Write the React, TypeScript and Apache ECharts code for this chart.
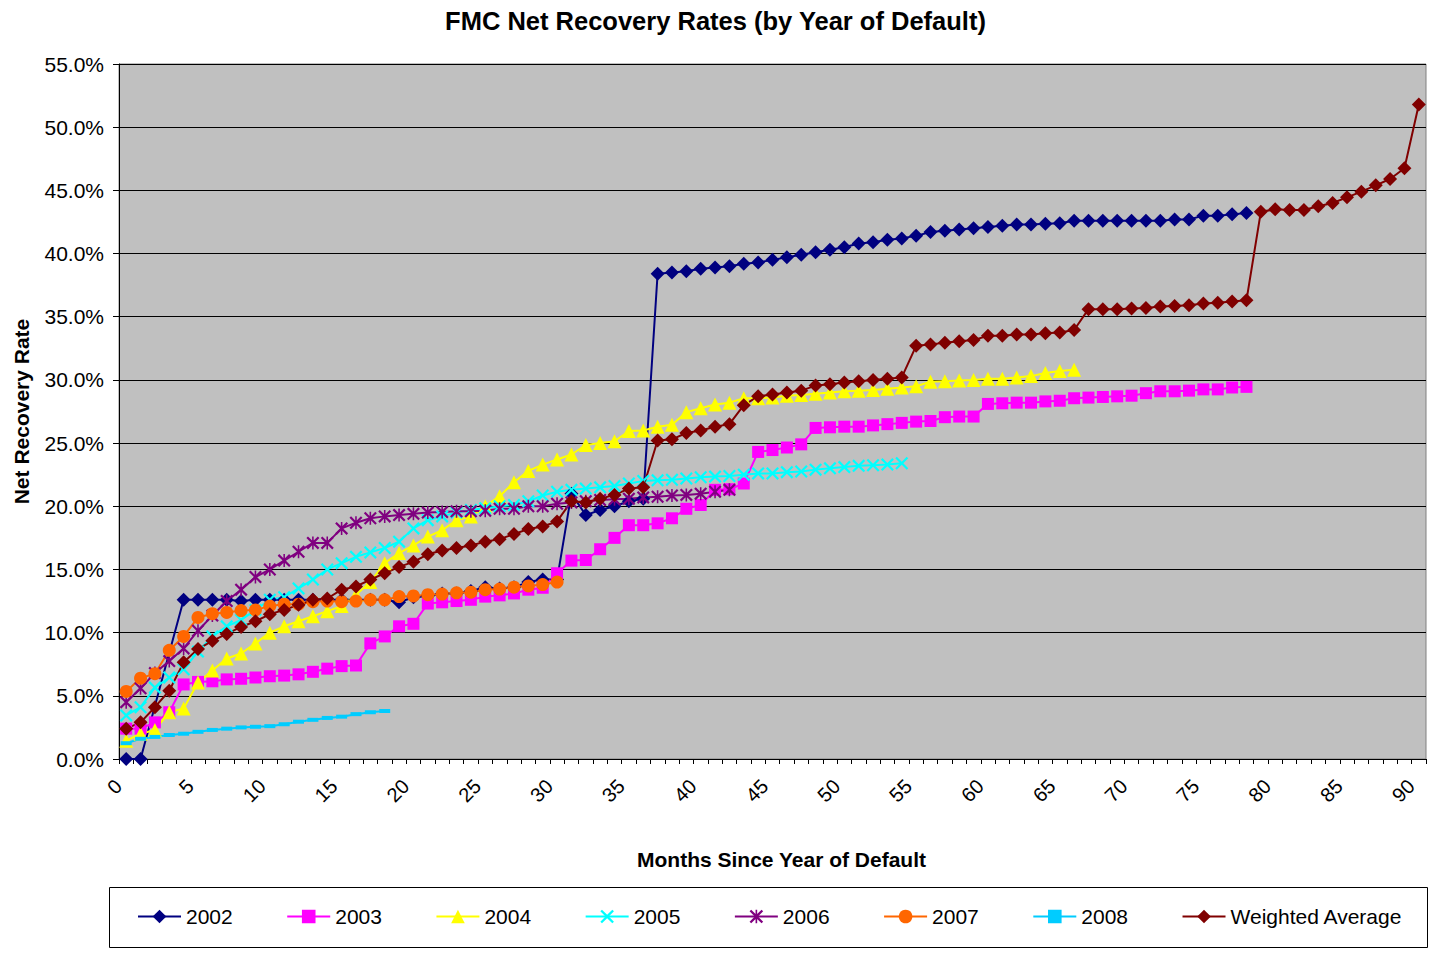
import React, { useEffect, useRef } from "react";
import * as echarts from "echarts";

const months = [
  "0","1","2","3","4","5","6","7","8","9","10","11","12","13","14","15","16","17","18","19",
  "20","21","22","23","24","25","26","27","28","29","30","31","32","33","34","35","36","37","38","39",
  "40","41","42","43","44","45","46","47","48","49","50","51","52","53","54","55","56","57","58","59",
  "60","61","62","63","64","65","66","67","68","69","70","71","72","73","74","75","76","77","78","79",
  "80","81","82","83","84","85","86","87","88","89","90",
];

const y2002 = [
  0.0, 0.0, null, null, 12.6, 12.6, 12.6, 12.6, 12.5, 12.6, 12.6, 12.6, 12.6, 12.6, 12.6, 12.6, 12.6, 12.6, 12.6, 12.4,
  12.8, 12.9, 13.1, 13.1, 13.3, 13.6, 13.5, 13.6, 14.0, 14.2, 14.2, 21.0, 19.3, 19.7, 20.0, 20.4, 20.6, 38.4, 38.5, 38.6,
  38.8, 38.9, 39.0, 39.2, 39.3, 39.5, 39.7, 39.9, 40.1, 40.3, 40.5, 40.8, 40.9, 41.1, 41.2, 41.4, 41.7, 41.8, 41.9, 42.0,
  42.1, 42.2, 42.3, 42.3, 42.35, 42.4, 42.6, 42.6, 42.6, 42.6, 42.6, 42.6, 42.6, 42.7, 42.7, 43.0, 43.0, 43.1, 43.2,
];
const y2003 = [
  2.4, 2.4, 2.9, 3.7, 5.9, 6.1, 6.15, 6.3, 6.35, 6.45, 6.55, 6.6, 6.7, 6.9, 7.15, 7.35, 7.4, 9.15, 9.7, 10.5,
  10.7, 12.3, 12.4, 12.5, 12.6, 12.85, 12.95, 13.1, 13.4, 13.55, 14.7, 15.7, 15.75, 16.6, 17.5, 18.5, 18.5, 18.65, 19.05, 19.8,
  20.1, 21.3, 21.35, 21.8, 24.3, 24.45, 24.65, 24.9, 26.2, 26.25, 26.3, 26.3, 26.4, 26.5, 26.6, 26.7, 26.75, 27.05, 27.1, 27.1,
  28.1, 28.15, 28.2, 28.2, 28.3, 28.35, 28.55, 28.6, 28.65, 28.7, 28.75, 28.95, 29.1, 29.1, 29.15, 29.25, 29.25, 29.4, 29.45,
];
const y2004 = [
  1.45, 2.0, 2.3, 3.7, 4.0, 6.05, 7.0, 7.95, 8.35, 9.15, 10.0, 10.5, 10.9, 11.3, 11.7, 12.1, 13.0, 14.0, 15.5, 16.3,
  16.9, 17.6, 18.1, 18.9, 19.2, 20.0, 20.8, 21.9, 22.8, 23.3, 23.7, 24.1, 24.85, 25.0, 25.15, 25.95, 26.0, 26.3, 26.45, 27.45,
  27.75, 28.05, 28.2, 28.55, 28.55, 28.6, 28.75, 28.8, 28.9, 29.0, 29.1, 29.15, 29.2, 29.3, 29.4, 29.5, 29.85, 29.9, 29.95, 30.0,
  30.1, 30.1, 30.2, 30.3, 30.55, 30.7, 30.8,
];
const y2005 = [
  3.45, 4.1, 5.65, 6.45, 7.1, 8.5, 9.7, 10.5, 11.0, 11.8, 12.6, 12.8, 13.5, 14.2, 15.0, 15.5, 16.0, 16.35, 16.7, 17.2,
  18.25, 18.9, 19.2, 19.5, 19.7, 19.85, 20.0, 20.1, 20.4, 20.85, 21.15, 21.3, 21.4, 21.5, 21.6, 21.8, 22.0, 22.05, 22.1, 22.2,
  22.3, 22.35, 22.4, 22.5, 22.6, 22.6, 22.7, 22.75, 22.9, 23.0, 23.1, 23.2, 23.25, 23.3, 23.4,
];
const y2006 = [
  4.5, 5.6, 6.8, 7.75, 8.75, 10.15, 11.35, 12.5, 13.4, 14.4, 15.0, 15.7, 16.4, 17.1, 17.1, 18.25, 18.7, 19.05, 19.2, 19.3,
  19.4, 19.5, 19.55, 19.6, 19.6, 19.65, 19.8, 19.8, 20.0, 20.0, 20.2, 20.3, 20.4, 20.5, 20.55, 20.6, 20.7, 20.75, 20.85, 20.9,
  21.0, 21.15, 21.3,
];
const y2007 = [
  5.35, 6.4, 6.75, 8.6, 9.7, 11.2, 11.5, 11.6, 11.75, 11.8, 12.1, 12.25, 12.25, 12.45, 12.5, 12.45, 12.5, 12.6, 12.6, 12.85,
  12.9, 13.0, 13.05, 13.15, 13.2, 13.4, 13.45, 13.6, 13.7, 13.8, 14.0,
];
const y2008 = [
  1.25, 1.6, 1.75, 1.9, 2.0, 2.15, 2.3, 2.4, 2.5, 2.55, 2.6, 2.75, 2.95, 3.1, 3.25, 3.35, 3.55, 3.7, 3.8,
];
const yWeighted = [
  2.4, 2.9, 4.1, 5.4, 7.65, 8.7, 9.35, 9.9, 10.45, 10.9, 11.45, 11.8, 12.2, 12.6, 12.7, 13.4, 13.65, 14.2, 14.7, 15.2,
  15.6, 16.2, 16.5, 16.7, 16.9, 17.2, 17.4, 17.8, 18.2, 18.4, 18.8, 20.4, 20.3, 20.6, 20.9, 21.4, 21.5, 25.2, 25.3, 25.8,
  26.0, 26.3, 26.5, 28.0, 28.7, 28.85, 29.0, 29.15, 29.55, 29.65, 29.8, 29.9, 30.0, 30.1, 30.2, 32.7, 32.8, 32.95, 33.05, 33.15,
  33.5, 33.5, 33.6, 33.6, 33.7, 33.75, 33.95, 35.6, 35.6, 35.6, 35.65, 35.7, 35.8, 35.85, 35.9, 36.05, 36.1, 36.2, 36.3, 43.3,
  43.5, 43.45, 43.45, 43.75, 44.0, 44.45, 44.9, 45.4, 45.9, 46.75, 51.8,
];

const FONT = 'Arial, "Liberation Sans", sans-serif';

const X_SYMBOL =
  "path://M0,1.2 L1.2,0 L5,3.8 L8.8,0 L10,1.2 L6.2,5 L10,8.8 L8.8,10 L5,6.2 L1.2,10 L0,8.8 L3.8,5 Z";
const STAR_SYMBOL =
  "path://M0,1.2 L1.2,0 L5,3.8 L8.8,0 L10,1.2 L6.2,5 L10,8.8 L8.8,10 L5,6.2 L1.2,10 L0,8.8 L3.8,5 Z M4.4,0 L5.6,0 L5.6,10 L4.4,10 Z";

function mkSeries(
  name: string,
  data: (number | null)[],
  color: string,
  symbol: string,
  symbolSize: number | number[],
  extra: any = {}
) {
  return {
    name,
    type: "line",
    data,
    symbol,
    symbolSize,
    showAllSymbol: true,
    connectNulls: true,
    lineStyle: { color, width: 2 },
    itemStyle: { color },
    emphasis: { disabled: true },
    ...extra,
  };
}

export default function App() {
  const ref = useRef<HTMLDivElement>(null);

  useEffect(() => {
    if (!ref.current) return;
    const chart = echarts.init(ref.current, null, { renderer: "svg" });
    chart.setOption({
      animation: false,
      backgroundColor: "#ffffff",
      textStyle: { fontFamily: FONT },
      title: {
        text: "FMC Net Recovery Rates (by Year of Default)",
        left: "center",
        top: 3,
        textStyle: { fontFamily: FONT, fontSize: 25.5, fontWeight: "bold", color: "#000" },
      },
      grid: {
        left: 119,
        right: 5,
        top: 64,
        bottom: 194,
        show: true,
        backgroundColor: "#C0C0C0",
        borderColor: "#808080",
        borderWidth: 1,
      },
      legend: {
        left: 132,
        top: 901,
        itemWidth: 43,
        itemHeight: 17,
        itemGap: 53.5,
        textStyle: { fontFamily: FONT, fontSize: 21, color: "#000" },
        data: ["2002", "2003", "2004", "2005", "2006", "2007", "2008", "Weighted Average"],
      },
      graphic: [
        {
          type: "rect",
          shape: { x: 109.5, y: 887.5, width: 1318, height: 60 },
          style: { fill: "none", stroke: "#000", lineWidth: 1 },
          silent: true,
          z: -1,
        },
      ],
      xAxis: {
        type: "category",
        data: months,
        boundaryGap: true,
        name: "Months Since Year of Default",
        nameLocation: "middle",
        nameGap: 90,
        nameTextStyle: {
          fontFamily: FONT,
          fontSize: 21,
          fontWeight: "bold",
          color: "#000",
          padding: [0, 0, 0, 18],
        },
        axisLine: { show: true, lineStyle: { color: "#000", width: 1 } },
        axisTick: { show: true, interval: 0, length: 5, lineStyle: { color: "#000" } },
        axisLabel: {
          interval: 4,
          rotate: 45,
          margin: 16,
          padding: [0, 11, 0, 0],
          fontFamily: FONT,
          fontSize: 20,
          color: "#000",
        },
        splitLine: { show: false },
      },
      yAxis: {
        type: "value",
        min: 0,
        max: 55,
        interval: 5,
        name: "Net Recovery Rate",
        nameLocation: "middle",
        nameGap: 87,
        nameTextStyle: { fontFamily: FONT, fontSize: 21, fontWeight: "bold", color: "#000" },
        axisLine: { show: true, lineStyle: { color: "#000", width: 1 } },
        axisTick: { show: true, length: 6, lineStyle: { color: "#000" } },
        axisLabel: {
          margin: 15,
          fontFamily: FONT,
          fontSize: 21,
          color: "#000",
          formatter: (v: number) => v.toFixed(1) + "%",
        },
        splitLine: { show: true, lineStyle: { color: "#000", width: 1 } },
      },
      series: [
        mkSeries("2002", y2002, "#000080", "diamond", 14),
        mkSeries("2003", y2003, "#FF00FF", "rect", 12),
        mkSeries("2004", y2004, "#FFFF00", "triangle", 14),
        mkSeries("2005", y2005, "#00FFFF", X_SYMBOL, 13),
        mkSeries("2006", y2006, "#800080", STAR_SYMBOL, 13),
        mkSeries("2007", y2007, "#FF6600", "circle", 13),
        mkSeries("2008", y2008, "#00CCFF", "rect", [11, 4]),
        mkSeries("Weighted Average", yWeighted, "#800000", "diamond", 14),
      ],
    });
    return () => chart.dispose();
  }, []);

  return (
    <div
      ref={ref}
      style={{ position: "fixed", left: 0, top: 0, width: 1431, height: 953 }}
    />
  );
}
